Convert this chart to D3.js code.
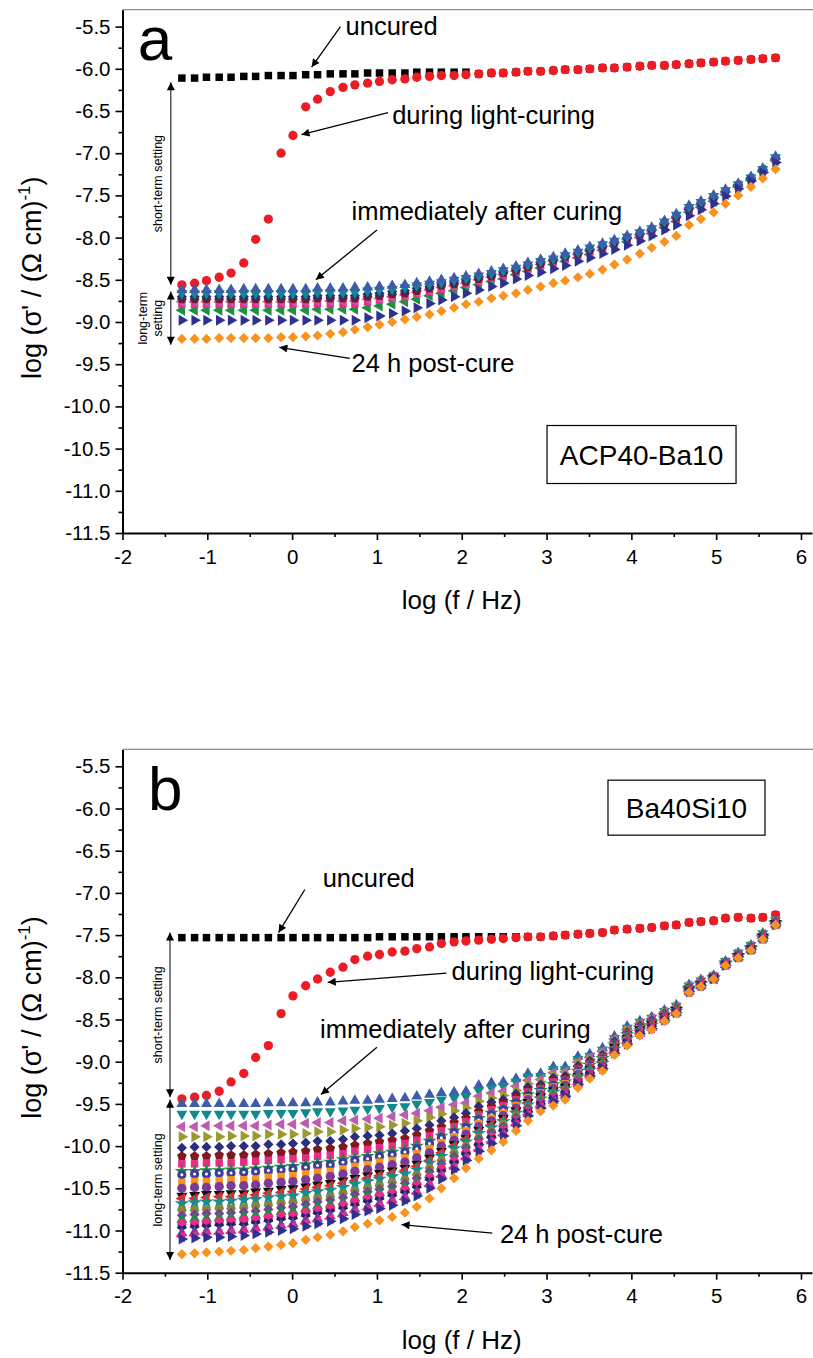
<!DOCTYPE html>
<html><head><meta charset="utf-8">
<script src="https://cdn.jsdelivr.net/npm/d3@7"></script>
<style>
body{margin:0;background:#fff}
svg{display:block}
text{font-family:"Liberation Sans",Arial,Helvetica,sans-serif;fill:#000}
</style>
</head><body>
<svg id="chart" width="813" height="1358"></svg>
<script>
// ---------------- data ----------------
const logF = [-1.30,-1.15,-1.01,-0.86,-0.72,-0.57,-0.43,-0.28,-0.13,0.01,0.16,0.30,0.45,0.60,0.74,0.89,1.03,1.18,1.33,1.47,1.62,1.76,1.91,2.05,2.20,2.35,2.49,2.64,2.78,2.93,3.08,3.22,3.37,3.51,3.66,3.80,3.95,4.10,4.24,4.39,4.53,4.68,4.82,4.97,5.11,5.26,5.41,5.55,5.70];
const xTicks = [-2,-1,0,1,2,3,4,5,6];
const xMinorTicks = [-1.5,-0.5,0.5,1.5,2.5,3.5,4.5,5.5];
const yTicks = [-5.5,-6.0,-6.5,-7.0,-7.5,-8.0,-8.5,-9.0,-9.5,-10.0,-10.5,-11.0,-11.5];
const yMinorTicks = [-5.75,-6.25,-6.75,-7.25,-7.75,-8.25,-8.75,-9.25,-9.75,-10.25,-10.75,-11.25];

// panel a: ACP40-Ba10
const aUncured = [-6.11,-6.11,-6.10,-6.10,-6.10,-6.09,-6.09,-6.08,-6.08,-6.08,-6.07,-6.07,-6.06,-6.06,-6.06,-6.05,-6.05,-6.05,-6.05,-6.04,-6.04,-6.04,-6.04,-6.04,-6.06,-6.05,-6.05,-6.04,-6.03,-6.03,-6.02,-6.01,-6.01,-6.00,-5.99,-5.99,-5.98,-5.97,-5.96,-5.96,-5.95,-5.94,-5.93,-5.92,-5.91,-5.90,-5.89,-5.88,-5.87];
const aCuring = [-8.56,-8.54,-8.51,-8.47,-8.42,-8.30,-8.02,-7.78,-7.00,-6.79,-6.45,-6.36,-6.27,-6.22,-6.19,-6.17,-6.15,-6.13,-6.12,-6.10,-6.09,-6.08,-6.08,-6.07,-6.06,-6.05,-6.05,-6.04,-6.03,-6.03,-6.02,-6.01,-6.01,-6.00,-5.99,-5.99,-5.98,-5.97,-5.96,-5.96,-5.95,-5.94,-5.93,-5.92,-5.91,-5.90,-5.89,-5.88,-5.87];
const aBlueUp = [-8.62,-8.62,-8.62,-8.62,-8.62,-8.61,-8.61,-8.61,-8.61,-8.61,-8.61,-8.60,-8.60,-8.60,-8.59,-8.59,-8.58,-8.57,-8.56,-8.54,-8.52,-8.50,-8.48,-8.46,-8.43,-8.40,-8.37,-8.34,-8.30,-8.26,-8.23,-8.19,-8.15,-8.11,-8.07,-8.03,-7.98,-7.93,-7.88,-7.80,-7.72,-7.62,-7.57,-7.50,-7.43,-7.36,-7.28,-7.18,-7.04];
const aTealDown = [-8.66,-8.66,-8.66,-8.66,-8.66,-8.66,-8.66,-8.66,-8.66,-8.66,-8.66,-8.65,-8.65,-8.65,-8.65,-8.63,-8.62,-8.61,-8.59,-8.57,-8.55,-8.53,-8.50,-8.48,-8.45,-8.42,-8.39,-8.36,-8.32,-8.28,-8.25,-8.21,-8.17,-8.12,-8.08,-8.04,-7.99,-7.94,-7.89,-7.81,-7.73,-7.64,-7.58,-7.51,-7.44,-7.37,-7.29,-7.19,-7.05];
const aNavyDiamond = [-8.70,-8.70,-8.70,-8.70,-8.70,-8.70,-8.70,-8.70,-8.70,-8.70,-8.70,-8.69,-8.69,-8.69,-8.69,-8.67,-8.66,-8.64,-8.63,-8.60,-8.58,-8.55,-8.53,-8.50,-8.47,-8.44,-8.41,-8.37,-8.33,-8.29,-8.26,-8.22,-8.18,-8.14,-8.10,-8.05,-8.00,-7.95,-7.90,-7.83,-7.75,-7.65,-7.59,-7.52,-7.45,-7.37,-7.29,-7.19,-7.06];
const aWineHex = [-8.73,-8.73,-8.73,-8.73,-8.73,-8.73,-8.73,-8.73,-8.73,-8.73,-8.73,-8.72,-8.72,-8.72,-8.72,-8.70,-8.69,-8.67,-8.66,-8.63,-8.60,-8.57,-8.55,-8.52,-8.49,-8.46,-8.42,-8.39,-8.35,-8.31,-8.27,-8.23,-8.19,-8.15,-8.11,-8.06,-8.01,-7.96,-7.91,-7.84,-7.76,-7.66,-7.60,-7.53,-7.45,-7.38,-7.30,-7.20,-7.06];
const aMagentaLeft = [-8.76,-8.76,-8.76,-8.76,-8.76,-8.76,-8.76,-8.76,-8.76,-8.76,-8.76,-8.75,-8.75,-8.75,-8.75,-8.73,-8.72,-8.70,-8.68,-8.65,-8.62,-8.59,-8.57,-8.54,-8.50,-8.47,-8.44,-8.40,-8.36,-8.32,-8.28,-8.24,-8.20,-8.16,-8.12,-8.07,-8.02,-7.97,-7.92,-7.85,-7.77,-7.67,-7.61,-7.54,-7.46,-7.38,-7.30,-7.20,-7.07];
const aPinkSquare = [-8.79,-8.79,-8.79,-8.79,-8.79,-8.79,-8.79,-8.79,-8.79,-8.79,-8.79,-8.78,-8.78,-8.78,-8.78,-8.76,-8.74,-8.72,-8.70,-8.67,-8.64,-8.61,-8.58,-8.55,-8.52,-8.48,-8.45,-8.41,-8.37,-8.33,-8.29,-8.25,-8.21,-8.17,-8.13,-8.08,-8.03,-7.98,-7.93,-7.86,-7.78,-7.68,-7.62,-7.55,-7.47,-7.39,-7.31,-7.21,-7.08];
const aGreenLeft = [-8.86,-8.86,-8.86,-8.86,-8.86,-8.86,-8.86,-8.86,-8.86,-8.86,-8.86,-8.85,-8.85,-8.85,-8.85,-8.83,-8.81,-8.79,-8.76,-8.73,-8.69,-8.66,-8.63,-8.59,-8.56,-8.52,-8.49,-8.44,-8.40,-8.36,-8.32,-8.28,-8.24,-8.20,-8.15,-8.10,-8.05,-8.00,-7.95,-7.88,-7.81,-7.70,-7.64,-7.57,-7.49,-7.40,-7.32,-7.22,-7.09];
const aBlueRight = [-8.98,-8.98,-8.98,-8.98,-8.98,-8.98,-8.98,-8.98,-8.98,-8.98,-8.98,-8.98,-8.98,-8.98,-8.98,-8.95,-8.93,-8.90,-8.87,-8.83,-8.78,-8.74,-8.70,-8.66,-8.62,-8.58,-8.54,-8.49,-8.45,-8.41,-8.37,-8.33,-8.28,-8.24,-8.19,-8.14,-8.09,-8.04,-7.98,-7.91,-7.85,-7.74,-7.67,-7.60,-7.51,-7.42,-7.33,-7.23,-7.11];
const aOrangeDiamond = [-9.20,-9.20,-9.20,-9.19,-9.19,-9.19,-9.19,-9.19,-9.18,-9.18,-9.17,-9.16,-9.14,-9.12,-9.09,-9.06,-9.03,-9.00,-8.97,-8.94,-8.91,-8.87,-8.83,-8.79,-8.76,-8.72,-8.69,-8.66,-8.62,-8.58,-8.54,-8.51,-8.47,-8.43,-8.38,-8.32,-8.26,-8.19,-8.12,-8.05,-7.98,-7.85,-7.78,-7.70,-7.60,-7.50,-7.40,-7.30,-7.19];

// panel b: Ba40Si10
const bUncured = [-7.53,-7.53,-7.53,-7.53,-7.53,-7.53,-7.53,-7.53,-7.53,-7.53,-7.53,-7.53,-7.53,-7.53,-7.53,-7.53,-7.52,-7.52,-7.52,-7.52,-7.52,-7.52,-7.52,-7.52,-7.52,-7.52,-7.52,-7.52,-7.52,-7.52,-7.51,-7.50,-7.49,-7.48,-7.47,-7.44,-7.43,-7.42,-7.41,-7.39,-7.38,-7.35,-7.34,-7.33,-7.30,-7.29,-7.30,-7.29,-7.26];
const bCuring = [-9.44,-9.42,-9.40,-9.35,-9.24,-9.14,-8.95,-8.81,-8.43,-8.22,-8.10,-8.02,-7.94,-7.88,-7.79,-7.75,-7.73,-7.70,-7.69,-7.66,-7.64,-7.60,-7.58,-7.57,-7.56,-7.55,-7.54,-7.53,-7.52,-7.52,-7.51,-7.50,-7.49,-7.48,-7.47,-7.44,-7.43,-7.42,-7.41,-7.39,-7.38,-7.35,-7.34,-7.33,-7.30,-7.29,-7.30,-7.29,-7.26];
const bBlueUp = [-9.50,-9.50,-9.50,-9.50,-9.50,-9.50,-9.50,-9.49,-9.49,-9.49,-9.49,-9.48,-9.48,-9.47,-9.46,-9.46,-9.45,-9.44,-9.43,-9.41,-9.39,-9.37,-9.36,-9.35,-9.28,-9.25,-9.24,-9.20,-9.14,-9.14,-9.06,-9.06,-8.94,-8.91,-8.84,-8.70,-8.58,-8.52,-8.47,-8.39,-8.33,-8.09,-8.03,-7.98,-7.81,-7.71,-7.62,-7.48,-7.33];
const bTealDown = [-9.62,-9.62,-9.62,-9.62,-9.62,-9.62,-9.62,-9.61,-9.61,-9.61,-9.60,-9.59,-9.59,-9.58,-9.57,-9.56,-9.55,-9.54,-9.53,-9.50,-9.48,-9.45,-9.43,-9.41,-9.34,-9.31,-9.29,-9.24,-9.18,-9.17,-9.09,-9.09,-8.97,-8.93,-8.86,-8.72,-8.60,-8.53,-8.48,-8.40,-8.34,-8.10,-8.04,-7.98,-7.81,-7.71,-7.62,-7.48,-7.33];
const bMagentaLeft = [-9.77,-9.77,-9.76,-9.76,-9.76,-9.76,-9.76,-9.75,-9.74,-9.74,-9.73,-9.72,-9.72,-9.70,-9.69,-9.68,-9.67,-9.65,-9.63,-9.61,-9.58,-9.54,-9.51,-9.49,-9.41,-9.37,-9.35,-9.29,-9.22,-9.21,-9.13,-9.12,-9.00,-8.95,-8.88,-8.73,-8.62,-8.55,-8.49,-8.41,-8.35,-8.10,-8.04,-7.99,-7.82,-7.72,-7.63,-7.49,-7.34];
const bOliveRight = [-9.89,-9.89,-9.89,-9.89,-9.88,-9.88,-9.88,-9.86,-9.86,-9.86,-9.85,-9.83,-9.83,-9.81,-9.79,-9.78,-9.77,-9.75,-9.73,-9.70,-9.66,-9.62,-9.58,-9.55,-9.47,-9.43,-9.40,-9.34,-9.26,-9.24,-9.16,-9.15,-9.02,-8.97,-8.90,-8.75,-8.63,-8.56,-8.50,-8.42,-8.35,-8.11,-8.05,-7.99,-7.82,-7.72,-7.63,-7.50,-7.34];
const bNavyDiamond = [-10.02,-10.01,-10.01,-10.01,-10.00,-10.00,-10.00,-9.98,-9.98,-9.97,-9.96,-9.94,-9.94,-9.92,-9.89,-9.88,-9.87,-9.85,-9.82,-9.79,-9.75,-9.70,-9.66,-9.61,-9.53,-9.48,-9.45,-9.38,-9.30,-9.27,-9.19,-9.17,-9.05,-8.99,-8.92,-8.76,-8.65,-8.57,-8.51,-8.43,-8.36,-8.12,-8.05,-7.99,-7.83,-7.73,-7.64,-7.50,-7.35];
const bWinePent = [-10.12,-10.12,-10.12,-10.11,-10.11,-10.11,-10.10,-10.09,-10.08,-10.07,-10.06,-10.04,-10.03,-10.01,-9.99,-9.97,-9.95,-9.93,-9.91,-9.87,-9.82,-9.77,-9.72,-9.67,-9.59,-9.53,-9.49,-9.42,-9.34,-9.30,-9.22,-9.20,-9.07,-9.01,-8.94,-8.78,-8.66,-8.58,-8.52,-8.44,-8.37,-8.12,-8.06,-7.99,-7.83,-7.73,-7.64,-7.51,-7.35];
const bPinkSquare = [-10.21,-10.21,-10.20,-10.20,-10.20,-10.19,-10.18,-10.17,-10.16,-10.15,-10.14,-10.12,-10.11,-10.09,-10.06,-10.04,-10.02,-10.00,-9.97,-9.93,-9.88,-9.82,-9.77,-9.71,-9.63,-9.57,-9.52,-9.45,-9.36,-9.32,-9.24,-9.22,-9.09,-9.03,-8.95,-8.79,-8.67,-8.59,-8.53,-8.44,-8.37,-8.13,-8.06,-8.00,-7.83,-7.73,-7.64,-7.51,-7.35];
const bGreenStar = [-10.30,-10.30,-10.29,-10.29,-10.28,-10.28,-10.27,-10.26,-10.25,-10.24,-10.22,-10.20,-10.19,-10.16,-10.14,-10.12,-10.09,-10.07,-10.04,-10.00,-9.94,-9.88,-9.82,-9.76,-9.67,-9.61,-9.56,-9.48,-9.39,-9.34,-9.27,-9.24,-9.11,-9.04,-8.96,-8.80,-8.68,-8.60,-8.54,-8.45,-8.38,-8.13,-8.07,-8.00,-7.83,-7.74,-7.65,-7.51,-7.35];
const bNavyDot = [-10.34,-10.33,-10.33,-10.32,-10.32,-10.31,-10.30,-10.29,-10.28,-10.27,-10.25,-10.23,-10.22,-10.19,-10.17,-10.15,-10.12,-10.10,-10.07,-10.03,-9.97,-9.90,-9.84,-9.78,-9.69,-9.63,-9.57,-9.49,-9.40,-9.35,-9.28,-9.24,-9.11,-9.05,-8.97,-8.80,-8.69,-8.60,-8.54,-8.45,-8.38,-8.13,-8.07,-8.00,-7.83,-7.74,-7.65,-7.51,-7.35];
const bOrangeSquare = [-10.43,-10.42,-10.42,-10.41,-10.40,-10.40,-10.39,-10.37,-10.36,-10.35,-10.33,-10.31,-10.30,-10.27,-10.24,-10.22,-10.19,-10.17,-10.14,-10.09,-10.03,-9.96,-9.89,-9.82,-9.73,-9.67,-9.61,-9.52,-9.43,-9.37,-9.30,-9.26,-9.13,-9.06,-8.98,-8.81,-8.70,-8.61,-8.55,-8.46,-8.38,-8.14,-8.07,-8.00,-7.84,-7.74,-7.65,-7.52,-7.36];
const bPurpleCircle = [-10.50,-10.49,-10.49,-10.48,-10.47,-10.47,-10.46,-10.44,-10.43,-10.42,-10.40,-10.38,-10.36,-10.33,-10.30,-10.28,-10.25,-10.22,-10.19,-10.14,-10.08,-10.00,-9.93,-9.86,-9.77,-9.70,-9.64,-9.55,-9.45,-9.39,-9.32,-9.28,-9.15,-9.07,-8.99,-8.82,-8.71,-8.62,-8.55,-8.46,-8.39,-8.14,-8.08,-8.00,-7.84,-7.74,-7.65,-7.52,-7.36];
const bBlackDown = [-10.59,-10.58,-10.57,-10.57,-10.56,-10.56,-10.54,-10.53,-10.51,-10.50,-10.48,-10.46,-10.44,-10.41,-10.38,-10.35,-10.32,-10.29,-10.26,-10.21,-10.14,-10.06,-9.98,-9.91,-9.81,-9.74,-9.67,-9.58,-9.48,-9.41,-9.34,-9.30,-9.17,-9.09,-9.01,-8.83,-8.72,-8.62,-8.56,-8.47,-8.39,-8.15,-8.08,-8.00,-7.84,-7.75,-7.66,-7.52,-7.36];
const bRedLeft = [-10.62,-10.62,-10.61,-10.60,-10.60,-10.59,-10.58,-10.56,-10.55,-10.54,-10.51,-10.49,-10.47,-10.44,-10.41,-10.38,-10.35,-10.32,-10.29,-10.24,-10.17,-10.08,-10.00,-9.92,-9.83,-9.75,-9.69,-9.59,-9.49,-9.42,-9.35,-9.31,-9.17,-9.09,-9.01,-8.84,-8.73,-8.63,-8.56,-8.47,-8.39,-8.15,-8.08,-8.01,-7.84,-7.75,-7.66,-7.52,-7.36];
const bTealStar = [-10.68,-10.67,-10.66,-10.66,-10.65,-10.64,-10.63,-10.61,-10.60,-10.59,-10.56,-10.54,-10.52,-10.49,-10.45,-10.42,-10.39,-10.36,-10.33,-10.28,-10.20,-10.12,-10.03,-9.95,-9.85,-9.78,-9.71,-9.61,-9.51,-9.44,-9.36,-9.32,-9.18,-9.10,-9.02,-8.85,-8.73,-8.63,-8.57,-8.48,-8.40,-8.15,-8.08,-8.01,-7.84,-7.75,-7.66,-7.53,-7.36];
const bOliveHex = [-10.76,-10.76,-10.75,-10.74,-10.74,-10.73,-10.71,-10.70,-10.68,-10.67,-10.64,-10.62,-10.60,-10.56,-10.53,-10.50,-10.47,-10.43,-10.40,-10.34,-10.26,-10.17,-10.08,-10.00,-9.90,-9.82,-9.74,-9.64,-9.54,-9.46,-9.39,-9.34,-9.20,-9.12,-9.03,-8.86,-8.74,-8.64,-8.58,-8.48,-8.40,-8.15,-8.09,-8.01,-7.85,-7.75,-7.66,-7.53,-7.37];
const bPurpleDiamond = [-10.82,-10.81,-10.80,-10.80,-10.79,-10.78,-10.77,-10.75,-10.73,-10.72,-10.69,-10.66,-10.64,-10.61,-10.57,-10.54,-10.51,-10.48,-10.44,-10.38,-10.30,-10.21,-10.12,-10.02,-9.92,-9.84,-9.77,-9.66,-9.55,-9.47,-9.40,-9.35,-9.21,-9.13,-9.04,-8.86,-8.75,-8.65,-8.58,-8.49,-8.40,-8.16,-8.09,-8.01,-7.85,-7.75,-7.66,-7.53,-7.37];
const bGreenUp = [-10.87,-10.86,-10.86,-10.85,-10.84,-10.83,-10.82,-10.80,-10.78,-10.77,-10.74,-10.71,-10.69,-10.66,-10.62,-10.58,-10.55,-10.52,-10.48,-10.42,-10.34,-10.24,-10.15,-10.05,-9.95,-9.87,-9.79,-9.68,-9.57,-9.49,-9.41,-9.36,-9.23,-9.13,-9.05,-8.87,-8.76,-8.65,-8.59,-8.49,-8.41,-8.16,-8.09,-8.01,-7.85,-7.76,-7.67,-7.53,-7.37];
const bPinkCircle = [-10.92,-10.92,-10.91,-10.90,-10.89,-10.88,-10.87,-10.85,-10.83,-10.82,-10.79,-10.76,-10.74,-10.70,-10.66,-10.63,-10.59,-10.56,-10.52,-10.46,-10.37,-10.27,-10.18,-10.08,-9.98,-9.89,-9.81,-9.70,-9.59,-9.50,-9.43,-9.37,-9.24,-9.14,-9.06,-8.88,-8.76,-8.66,-8.59,-8.49,-8.41,-8.16,-8.09,-8.01,-7.85,-7.76,-7.67,-7.54,-7.37];
const bNavyWye = [-10.98,-10.97,-10.96,-10.95,-10.94,-10.94,-10.92,-10.90,-10.88,-10.87,-10.84,-10.81,-10.78,-10.75,-10.71,-10.67,-10.64,-10.60,-10.56,-10.50,-10.41,-10.31,-10.21,-10.11,-10.00,-9.91,-9.83,-9.71,-9.60,-9.51,-9.44,-9.38,-9.25,-9.15,-9.06,-8.88,-8.77,-8.66,-8.59,-8.50,-8.41,-8.17,-8.10,-8.01,-7.85,-7.76,-7.67,-7.54,-7.37];
const bPurpleUp = [-11.03,-11.02,-11.01,-11.01,-11.00,-10.99,-10.97,-10.95,-10.94,-10.92,-10.88,-10.86,-10.83,-10.79,-10.75,-10.72,-10.68,-10.64,-10.60,-10.54,-10.45,-10.34,-10.24,-10.13,-10.03,-9.94,-9.85,-9.73,-9.62,-9.53,-9.46,-9.40,-9.26,-9.16,-9.07,-8.89,-8.78,-8.67,-8.60,-8.50,-8.42,-8.17,-8.10,-8.01,-7.85,-7.76,-7.67,-7.54,-7.37];
const bPinkLeft = [-11.07,-11.06,-11.05,-11.04,-11.03,-11.02,-11.01,-10.99,-10.97,-10.95,-10.92,-10.89,-10.86,-10.83,-10.78,-10.75,-10.71,-10.67,-10.63,-10.56,-10.47,-10.36,-10.26,-10.15,-10.05,-9.95,-9.87,-9.75,-9.63,-9.54,-9.47,-9.40,-9.27,-9.17,-9.08,-8.89,-8.78,-8.67,-8.60,-8.50,-8.42,-8.17,-8.10,-8.02,-7.85,-7.76,-7.67,-7.54,-7.37];
const bBlueRight = [-11.10,-11.09,-11.08,-11.08,-11.07,-11.06,-11.04,-11.02,-11.00,-10.98,-10.95,-10.92,-10.89,-10.86,-10.81,-10.77,-10.74,-10.70,-10.65,-10.59,-10.50,-10.39,-10.28,-10.17,-10.06,-9.97,-9.88,-9.76,-9.64,-9.55,-9.47,-9.41,-9.27,-9.17,-9.08,-8.90,-8.79,-8.67,-8.61,-8.51,-8.42,-8.17,-8.10,-8.02,-7.86,-7.76,-7.67,-7.54,-7.38];
const bOrangeDiamond = [-11.28,-11.27,-11.26,-11.25,-11.24,-11.23,-11.21,-11.19,-11.17,-11.15,-11.11,-11.08,-11.05,-11.01,-10.96,-10.92,-10.88,-10.84,-10.79,-10.72,-10.62,-10.50,-10.38,-10.26,-10.15,-10.05,-9.95,-9.82,-9.70,-9.59,-9.52,-9.45,-9.31,-9.20,-9.11,-8.92,-8.81,-8.69,-8.62,-8.52,-8.43,-8.18,-8.11,-8.02,-7.86,-7.77,-7.68,-7.55,-7.38];

// ---------------- marker shapes ----------------
const symPentagon = {draw(ctx, size){
  const r = Math.sqrt(size / (2.5 * Math.sin(2 * Math.PI / 5)));
  for (let i = 0; i < 5; i++) { const a = -Math.PI / 2 + i * 2 * Math.PI / 5;
    const px = r * Math.cos(a), py = r * Math.sin(a); i ? ctx.lineTo(px, py) : ctx.moveTo(px, py); }
  ctx.closePath(); }};
const symHexagon = {draw(ctx, size){
  const r = Math.sqrt(size / (1.5 * Math.sqrt(3)));
  for (let i = 0; i < 6; i++) { const a = i * Math.PI / 3;
    const px = r * Math.cos(a), py = r * Math.sin(a); i ? ctx.lineTo(px, py) : ctx.moveTo(px, py); }
  ctx.closePath(); }};
const markerSpec = {
  square:   {type: d3.symbolSquare,   size: 56, rot: 0},
  circle:   {type: d3.symbolCircle,   size: 68, rot: 0},
  circleDot:{type: d3.symbolCircle,   size: 66, rot: 0, dot: true},
  triUp:    {type: d3.symbolTriangle, size: 52, rot: 0},
  triDown:  {type: d3.symbolTriangle, size: 52, rot: 180},
  triLeft:  {type: d3.symbolTriangle, size: 52, rot: -90},
  triRight: {type: d3.symbolTriangle, size: 52, rot: 90},
  diamond:  {type: d3.symbolSquare,   size: 52, rot: 45},
  pentagon: {type: symPentagon,       size: 60, rot: 0},
  hexagon:  {type: symHexagon,        size: 60, rot: 0},
  star:     {type: d3.symbolStar,     size: 64, rot: 0},
  wye:      {type: d3.symbolWye,      size: 48, rot: 0}
};

const seriesA = [
  {values: aUncured,       color: "#000000", shape: "square"},
  {values: aCuring,        color: "#ed1c24", shape: "circle"},
  {values: aGreenLeft,     color: "#1e9140", shape: "triLeft"},
  {values: aPinkSquare,    color: "#ec2a8a", shape: "square"},
  {values: aMagentaLeft,   color: "#c05cb0", shape: "triLeft"},
  {values: aWineHex,       color: "#7d1a1e", shape: "hexagon"},
  {values: aNavyDiamond,   color: "#2b2d7e", shape: "diamond"},
  {values: aTealDown,      color: "#12898a", shape: "triDown"},
  {values: aBlueUp,        color: "#3d5dab", shape: "triUp"},
  {values: aBlueRight,     color: "#2e3192", shape: "triRight"},
  {values: aOrangeDiamond, color: "#f7931e", shape: "diamond"}
];
const seriesB = [
  {values: bUncured,       color: "#000000", shape: "square"},
  {values: bCuring,        color: "#ed1c24", shape: "circle"},
  {values: bBlueUp,        color: "#3d5dab", shape: "triUp"},
  {values: bTealDown,      color: "#12898a", shape: "triDown"},
  {values: bMagentaLeft,   color: "#c05cb0", shape: "triLeft"},
  {values: bOliveRight,    color: "#9a9a30", shape: "triRight"},
  {values: bNavyDiamond,   color: "#2b2d7e", shape: "diamond"},
  {values: bWinePent,      color: "#7d1a1e", shape: "pentagon"},
  {values: bPinkSquare,    color: "#ec2a8a", shape: "square"},
  {values: bGreenStar,     color: "#1e9140", shape: "star"},
  {values: bNavyDot,       color: "#3b3f9a", shape: "circleDot"},
  {values: bOrangeSquare,  color: "#f7931e", shape: "square"},
  {values: bPurpleCircle,  color: "#7b3c98", shape: "circle"},
  {values: bBlackDown,     color: "#111111", shape: "triDown"},
  {values: bRedLeft,       color: "#e8262a", shape: "triLeft"},
  {values: bTealStar,      color: "#178c8c", shape: "star"},
  {values: bOliveHex,      color: "#86863a", shape: "hexagon"},
  {values: bPurpleDiamond, color: "#7b3f99", shape: "diamond"},
  {values: bGreenUp,       color: "#1e8a4a", shape: "triUp"},
  {values: bPinkCircle,    color: "#ec2a8a", shape: "circle"},
  {values: bNavyWye,       color: "#22226a", shape: "wye"},
  {values: bPurpleUp,      color: "#7b3c98", shape: "triUp"},
  {values: bPinkLeft,      color: "#ec2a8c", shape: "triLeft"},
  {values: bBlueRight,     color: "#2e3192", shape: "triRight"},
  {values: bOrangeDiamond, color: "#f7931e", shape: "diamond"}
];

// ---------------- drawing ----------------
const svg = d3.select("#chart");
svg.append("defs").append("marker")
  .attr("id", "ah").attr("viewBox", "0 0 10 10").attr("refX", 10).attr("refY", 5)
  .attr("markerWidth", 10).attr("markerHeight", 8).attr("markerUnits", "userSpaceOnUse")
  .attr("orient", "auto-start-reverse")
  .append("path").attr("d", "M0,0 L10,5 L0,10 Z").attr("fill", "#000");

const X_DOMAIN = [-2, 6.13];
const Y_DOMAIN = [-11.5, -5.3];

function drawPanel(opt) {
  const g = svg.append("g");
  const x = d3.scaleLinear().domain(X_DOMAIN).range([122.5, 812]);
  const y = d3.scaleLinear().domain(Y_DOMAIN).range([opt.bottom, opt.bottom - 6.2 * 84.4]);

  // frame (top edge)
  g.append("line")
    .attr("x1", x(X_DOMAIN[0])).attr("x2", 813).attr("y1", y(Y_DOMAIN[1])).attr("y2", y(Y_DOMAIN[1]))
    .attr("stroke", "#8c8c8c").attr("stroke-width", 1.2);

  // data
  opt.series.forEach(s => {
    const sp = markerSpec[s.shape];
    const pts = s.values.map((v, i) => [logF[i], v]);
    const sg = g.append("g").attr("fill", s.color);
    sg.selectAll("path").data(pts).join("path")
      .attr("transform", d => `translate(${x(d[0])},${y(d[1])}) rotate(${sp.rot})`)
      .attr("d", d3.symbol(sp.type, sp.size)());
    if (sp.dot) {
      sg.selectAll("circle").data(pts).join("circle")
        .attr("cx", d => x(d[0])).attr("cy", d => y(d[1])).attr("r", 1.5).attr("fill", "#fff");
    }
  });

  // axes
  const ax = g.append("g").attr("transform", `translate(0,${y(-11.5)})`)
    .call(d3.axisBottom(x).tickValues(xTicks).tickSize(7).tickSizeOuter(0).tickPadding(9).tickFormat(d => String(d)));
  ax.append("g").call(d3.axisBottom(x).tickValues(xMinorTicks).tickSize(4).tickSizeOuter(0).tickFormat(""))
    .select(".domain").remove();
  const ay = g.append("g").attr("transform", `translate(${x(-2)},0)`)
    .call(d3.axisLeft(y).tickValues(yTicks).tickSize(7).tickSizeOuter(0).tickPadding(5).tickFormat(d => d.toFixed(1)));
  ay.append("g").call(d3.axisLeft(y).tickValues(yMinorTicks).tickSize(4).tickSizeOuter(0).tickFormat(""))
    .select(".domain").remove();
  [ax, ay].forEach(a => {
    a.selectAll(".domain").attr("stroke", "#000").attr("stroke-width", 2);
    a.selectAll(".tick line").attr("stroke", "#000").attr("stroke-width", 1.6);
    a.selectAll("text").attr("font-size", 20.5).attr("font-family", "Liberation Sans, Arial, sans-serif").attr("fill", "#000");
  });

  // axis titles
  g.append("text").attr("x", x(2)).attr("y", y(-11.5) + 76).attr("text-anchor", "middle")
    .attr("font-size", 26).text("log (f / Hz)");
  const yt = g.append("text").attr("text-anchor", "middle").attr("font-size", 27)
    .attr("transform", `translate(41,${(y(-11.5) + y(-5.5)) / 2 - 2}) rotate(-90)`);
  yt.append("tspan").text("log (σ' / (Ω cm)");
  yt.append("tspan").attr("font-size", 17).attr("dy", -11).text("-1");
  yt.append("tspan").attr("dy", 11).text(")");

  // panel letter
  g.append("text").attr("x", x(opt.letter[0])).attr("y", y(opt.letter[1]))
    .attr("font-size", 62).text(opt.letter[2]);

  // boxed sample name
  const bx = opt.box;
  g.append("rect").attr("x", x(bx.cx) - bx.w / 2).attr("y", y(bx.cy) - bx.h / 2)
    .attr("width", bx.w).attr("height", bx.h).attr("fill", "#fff").attr("stroke", "#000").attr("stroke-width", 1.2);
  g.append("text").attr("x", x(bx.cx)).attr("y", y(bx.cy) + 10).attr("text-anchor", "middle")
    .attr("font-size", 28).text(bx.text);

  // annotations
  opt.notes.forEach(n => {
    g.append("text").attr("x", x(n.tx)).attr("y", y(n.ty)).attr("font-size", 25.5).text(n.text);
    g.append("line").attr("x1", x(n.ax0)).attr("y1", y(n.ay0)).attr("x2", x(n.ax1)).attr("y2", y(n.ay1))
      .attr("stroke", "#000").attr("stroke-width", 1.3).attr("marker-end", "url(#ah)");
  });

  // setting double arrows
  opt.ranges.forEach(r => {
    g.append("line").attr("x1", x(r.x)).attr("x2", x(r.x)).attr("y1", y(r.y0)).attr("y2", y(r.y1))
      .attr("stroke", "#000").attr("stroke-width", 1).attr("marker-start", "url(#ah)").attr("marker-end", "url(#ah)");
    const t = g.append("text").attr("text-anchor", "middle").attr("font-size", 12.5)
      .attr("transform", `translate(${x(r.lx)},${y((r.y0 + r.y1) / 2)}) rotate(-90)`);
    r.lines.forEach((ln, i) => t.append("tspan").attr("x", 0).attr("dy", i ? 15 : (r.lines.length > 1 ? -8 : 0)).text(ln));
  });
}

drawPanel({
  bottom: 533,
  series: seriesA,
  letter: [-1.82, -5.89, "a"],
  box: {cx: 4.12, cy: -10.57, w: 189, h: 58, text: "ACP40-Ba10"},
  notes: [
    {text: "uncured", tx: 0.63, ty: -5.60, ax0: 0.57, ay0: -5.50, ax1: 0.23, ay1: -5.98},
    {text: "during light-curing", tx: 1.18, ty: -6.65, ax0: 1.13, ay0: -6.52, ax1: 0.11, ay1: -6.78},
    {text: "immediately after curing", tx: 0.70, ty: -7.79, ax0: 1.00, ay0: -7.91, ax1: 0.28, ay1: -8.50},
    {text: "24 h post-cure", tx: 0.70, ty: -9.59, ax0: 0.68, ay0: -9.43, ax1: -0.15, ay1: -9.30}
  ],
  ranges: [
    {x: -1.43, y0: -6.16, y1: -8.56, lx: -1.54, lines: ["short-term setting"]},
    {x: -1.43, y0: -8.64, y1: -9.27, lx: -1.62, lines: ["long-term", "setting"]}
  ]
});

drawPanel({
  bottom: 1272.7,
  series: seriesB,
  letter: [-1.70, -6.02, "b"],
  box: {cx: 4.65, cy: -5.99, w: 157, h: 55, text: "Ba40Si10"},
  notes: [
    {text: "uncured", tx: 0.36, ty: -6.93, ax0: 0.15, ay0: -6.96, ax1: -0.16, ay1: -7.47},
    {text: "during light-curing", tx: 1.88, ty: -8.03, ax0: 1.82, ay0: -7.95, ax1: 0.42, ay1: -8.06},
    {text: "immediately after curing", tx: 0.33, ty: -8.72, ax0: 1.00, ay0: -8.83, ax1: 0.34, ay1: -9.39},
    {text: "24 h post-cure", tx: 2.45, ty: -11.15, ax0: 2.36, ay0: -11.03, ax1: 1.29, ay1: -10.93}
  ],
  ranges: [
    {x: -1.44, y0: -7.47, y1: -9.42, lx: -1.54, lines: ["short-term setting"]},
    {x: -1.44, y0: -9.45, y1: -11.35, lx: -1.54, lines: ["long-term setting"]}
  ]
});
</script>
</body></html>
